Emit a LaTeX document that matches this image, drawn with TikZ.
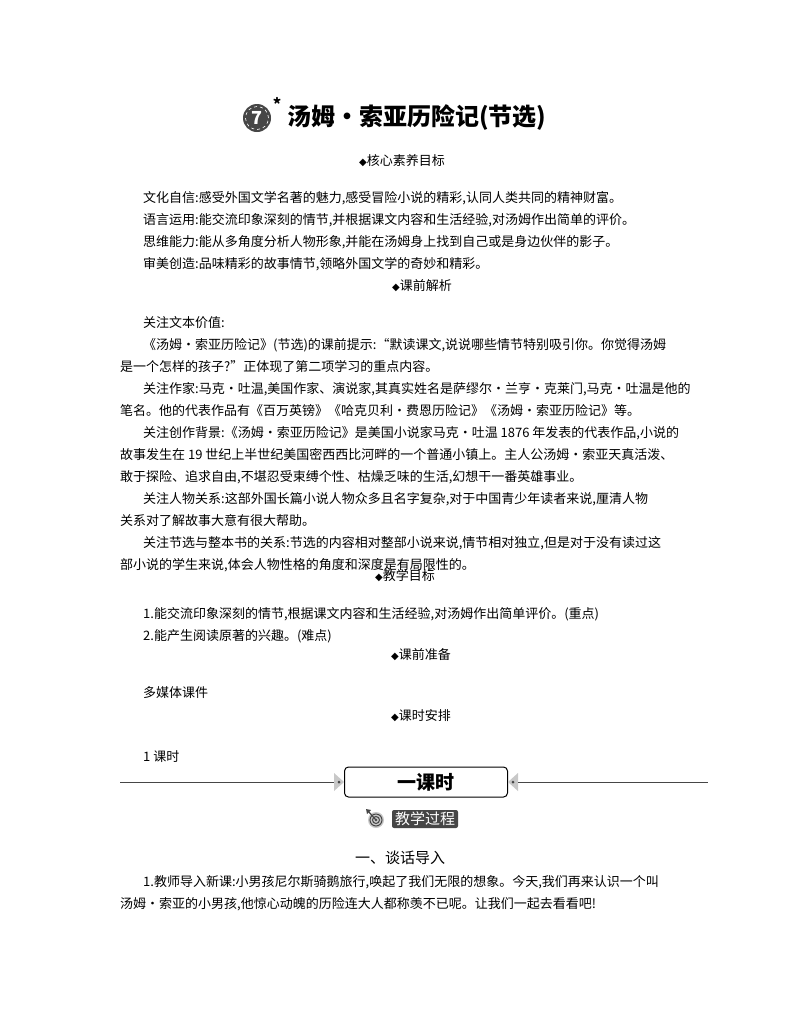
\documentclass[tikz,border=0pt]{standalone}
\usepackage{fontspec}
\setmainfont{Noto Sans CJK SC}
\newfontfamily\symfont{DejaVu Sans}
\usetikzlibrary{positioning}
\definecolor{mygray}{RGB}{70,70,70}
\definecolor{mylight}{RGB}{200,200,200}
\begin{document}
\begin{tikzpicture}[x=1pt,y=-1pt,
txt/.style={anchor=west,inner sep=0pt,font=\fontsize{13}{15}\selectfont},
head/.style={inner sep=0pt,font=\fontsize{13}{15}\selectfont},
]
\fill[white] (0,0) rectangle (800,1010);
\useasboundingbox (0,0) rectangle (800,1010);
% title
\node[circle,fill=mygray,minimum size=28pt,inner sep=0pt] (num) at (257,118) {};
\draw[white,dashed,line width=0.6pt] (num.center) circle (11.5pt);
\node[text=white,font=\fontsize{18}{18}\selectfont\bfseries] at (num) {7};
\node[font=\fontsize{16}{16}\selectfont\bfseries,inner sep=0pt] (star) at (277,104) {*};
\node[anchor=west,inner sep=0pt,font=\fontsize{24}{26}\selectfont\bfseries] (title) at (287,118) {汤姆·索亚历险记(节选)};
% core goals
\node[head] (h1) at (402,161) {{\symfont\fontsize{10}{10}\selectfont◆}核心素养目标};
\node[txt] (l1) at (143,198) {文化自信:感受外国文学名著的魅力,感受冒险小说的精彩,认同人类共同的精神财富。};
\node[txt] (l2) at (143,220) {语言运用:能交流印象深刻的情节,并根据课文内容和生活经验,对汤姆作出简单的评价。};
\node[txt] (l3) at (143,242) {思维能力:能从多角度分析人物形象,并能在汤姆身上找到自己或是身边伙伴的影子。};
\node[txt] (l4) at (143,264) {审美创造:品味精彩的故事情节,领略外国文学的奇妙和精彩。};
\node[head] (h2) at (422,286) {{\symfont\fontsize{10}{10}\selectfont◆}课前解析};
\node[txt] (p1) at (143,323) {关注文本价值:};
\node[txt] (p2) at (143,345) {《汤姆·索亚历险记》(节选)的课前提示:“默读课文,说说哪些情节特别吸引你。你觉得汤姆};
\node[txt] (p3) at (120,367) {是一个怎样的孩子?”正体现了第二项学习的重点内容。};
\node[txt] (p4) at (143,389) {关注作家:马克·吐温,美国作家、演说家,其真实姓名是萨缪尔·兰亨·克莱门,马克·吐温是他的};
\node[txt] (p5) at (120,411) {笔名。他的代表作品有《百万英镑》《哈克贝利·费恩历险记》《汤姆·索亚历险记》等。};
\node[txt] (p6) at (143,433) {关注创作背景:《汤姆·索亚历险记》是美国小说家马克·吐温 1876 年发表的代表作品,小说的};
\node[txt] (p7) at (120,455) {故事发生在 19 世纪上半世纪美国密西西比河畔的一个普通小镇上。主人公汤姆·索亚天真活泼、};
\node[txt] (p8) at (120,477) {敢于探险、追求自由,不堪忍受束缚个性、枯燥乏味的生活,幻想干一番英雄事业。};
\node[txt] (p9) at (143,499) {关注人物关系:这部外国长篇小说人物众多且名字复杂,对于中国青少年读者来说,厘清人物};
\node[txt] (p10) at (120,521) {关系对了解故事大意有很大帮助。};
\node[txt] (p11) at (143,543) {关注节选与整本书的关系:节选的内容相对整部小说来说,情节相对独立,但是对于没有读过这};
\node[txt] (p12) at (120,565) {部小说的学生来说,体会人物性格的角度和深度是有局限性的。};
% teaching goals
\node[head] (h3) at (405,576) {{\symfont\fontsize{10}{10}\selectfont◆}教学目标};
\node[txt] (g1) at (143,614) {1.能交流印象深刻的情节,根据课文内容和生活经验,对汤姆作出简单评价。(重点)};
\node[txt] (g2) at (143,636) {2.能产生阅读原著的兴趣。(难点)};
\node[head] (h4) at (421,655) {{\symfont\fontsize{10}{10}\selectfont◆}课前准备};
\node[txt] (m1) at (143,693) {多媒体课件};
\node[head] (h5) at (421,716) {{\symfont\fontsize{10}{10}\selectfont◆}课时安排};
\node[txt] (t1) at (143,757) {1 课时};
% banner
\node[draw,line width=1pt,rounded corners=4pt,minimum width=163pt,minimum height=30pt,
  font=\fontsize{19}{20}\selectfont\bfseries] (ban) at (426,782) {一课时};
\coordinate (lend) at (120,782);
\coordinate (rend) at (708,782);
\fill[mylight] (ban.west) -- ++(-10,-9) -- ++(0,18) -- cycle;
\fill[mylight] (ban.east) -- ++(10,-9) -- ++(0,18) -- cycle;
\draw[mygray,line width=0.8pt] (lend) -- ([xshift=-10pt]ban.west);
\draw[mygray,line width=0.8pt] ([xshift=10pt]ban.east) -- (rend);
\fill[mygray] ([xshift=-5pt]ban.west) circle (1.5pt);
\fill[mygray] ([xshift=5pt]ban.east) circle (1.5pt);
% badge
\node[fill=mygray,rounded corners=2pt,text=white,inner xsep=3pt,inner ysep=2pt,
  font=\fontsize{15}{16}\selectfont] (badge) at (425,819) {教学过程};
\fill[mylight] (376,820) circle (8pt);
\draw[mygray,line width=1pt] (376,820) circle (6pt) (376,820) circle (3.5pt);
\fill[mygray] (376,820) circle (1.3pt);
\draw[mygray,line width=1.2pt] (376,820) -- (368,811);
\fill[mygray] (366,809) -- (371,810) -- (367,814) -- cycle;
% lead-in
\node[head,font=\fontsize{15}{16}\selectfont] (s1) at (400,858) {一、谈话导入};
\node[txt] (q1) at (143,882) {1.教师导入新课:小男孩尼尔斯骑鹅旅行,唤起了我们无限的想象。今天,我们再来认识一个叫};
\node[txt] (q2) at (120,904) {汤姆·索亚的小男孩,他惊心动魄的历险连大人都称羡不已呢。让我们一起去看看吧!};
\end{tikzpicture}
\end{document}
